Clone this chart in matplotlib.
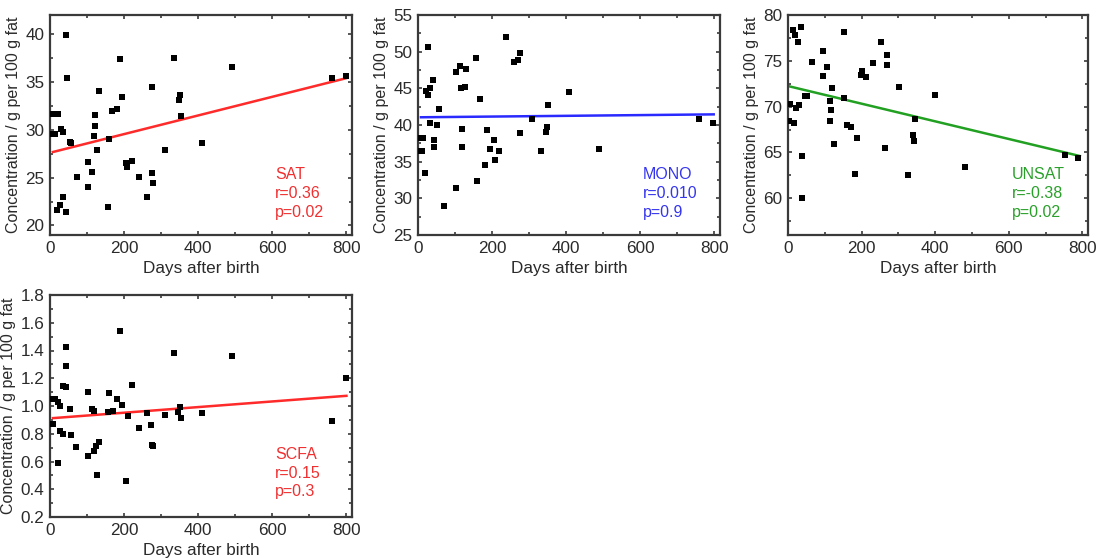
import matplotlib
matplotlib.use("Agg")
import matplotlib.pyplot as plt
from matplotlib.ticker import MultipleLocator, FormatStrFormatter
import numpy as np

plt.rcParams['font.family'] = ['Liberation Sans', 'DejaVu Sans']

# ---------------- data ----------------
sat_days = [0, 5, 7, 22, 7, 13, 29, 36, 20, 27, 36, 42, 43, 45, 54, 58, 72, 103, 103, 114,
            121, 122, 120, 128, 132, 160, 157, 168, 180, 189, 195, 205, 209, 220, 240, 261,
            274, 276, 278, 310, 334, 349, 351, 353, 409, 492, 760, 798]
sat_conc = [29.6, 29.6, 31.6, 31.7, 29.6, 29.6, 30.1, 29.8, 21.6, 22.1, 23.0, 21.4, 39.9, 35.4,
            28.7, 28.6, 25.1, 24.0, 26.6, 25.6, 31.5, 30.4, 29.3, 27.9, 34.1, 29.0, 21.9, 32.0,
            32.2, 37.4, 33.4, 26.5, 26.1, 26.7, 25.1, 23.0, 34.5, 25.5, 24.4, 27.9, 37.5, 33.1,
            33.6, 31.4, 28.6, 36.6, 35.4, 35.6]

mono_days = [4, 13, 4, 12, 20, 22, 27, 27, 33, 33, 40, 42, 42, 52, 57, 69, 102, 103, 112, 117,
             127, 120, 120, 130, 157, 160, 168, 180, 187, 193, 205, 209, 218, 238, 258, 270,
             276, 274, 308, 333, 346, 349, 352, 407, 488, 758, 796]
mono_conc = [38.2, 38.2, 36.5, 36.5, 33.4, 44.7, 44.1, 50.6, 45.1, 40.3, 46.1, 38.0, 37.0, 40.0,
             42.2, 29.0, 31.4, 47.2, 48.0, 45.1, 45.2, 39.5, 37.0, 47.7, 49.2, 32.3, 43.6, 34.5,
             39.3, 36.7, 38.0, 35.2, 36.5, 52.0, 48.6, 48.9, 49.8, 38.9, 40.8, 36.4, 39.1, 39.7,
             42.7, 44.5, 36.7, 40.8, 40.3]

unsat_days = [0, 5, 2, 17, 13, 20, 35, 28, 22, 29, 37, 37, 47, 52, 65, 96, 96, 105, 120, 113,
              116, 113, 125, 151, 153, 160, 172, 187, 181, 202, 198, 212, 232, 253, 270, 268,
              264, 301, 326, 340, 341, 344, 400, 482, 753, 788]
unsat_conc = [70.3, 70.3, 68.4, 68.2, 78.4, 77.8, 78.7, 77.0, 69.9, 70.2, 64.6, 60.0, 71.2, 71.2,
              74.9, 76.1, 73.3, 74.3, 72.0, 70.6, 69.6, 68.4, 65.9, 78.1, 70.9, 68.0, 67.8, 66.6,
              62.6, 73.9, 73.5, 73.2, 74.8, 77.0, 75.6, 74.5, 65.5, 72.1, 62.5, 66.9, 66.3, 68.6,
              71.3, 63.4, 64.7, 64.4]

scfa_days = [5, 14, 22, 27, 3, 9, 27, 36, 21, 36, 42, 42, 42, 54, 58, 70, 102, 102, 112, 120,
             120, 124, 132, 128, 160, 157, 169, 189, 180, 195, 211, 205, 220, 241, 261, 272,
             274, 277, 310, 334, 346, 351, 353, 409, 492, 760, 800]
scfa_conc = [1.05, 1.05, 1.03, 1.00, 0.87, 0.87, 0.82, 0.80, 0.587, 1.147, 1.135, 1.425, 1.288,
             0.978, 0.792, 0.708, 1.104, 0.640, 0.978, 0.961, 0.676, 0.712, 0.737, 0.502, 1.092,
             0.959, 0.966, 1.541, 1.051, 1.007, 0.925, 0.459, 1.152, 0.845, 0.947, 0.860, 0.720,
             0.713, 0.937, 1.384, 0.954, 0.995, 0.913, 0.947, 1.358, 0.894, 1.203]

# fitted lines: (intercept, slope, x start, x end)
sat_fit = (27.6, 0.00975, 8, 798)
mono_fit = (41.05, 0.0005, 8, 798)
unsat_fit = (72.25, -0.00963, 4, 793)
scfa_fit = (0.911, 0.000203, 8, 800)

labels = ["SAT\nr=0.36\np=0.02", "MONO\nr=0.010\np=0.9",
          "UNSAT\nr=-0.38\np=0.02", "SCFA\nr=0.15\np=0.3"]

# ---------------- figure ----------------
W, H = 1099, 558
fig = plt.figure(figsize=(W / 100, H / 100), dpi=100)

def make_ax(left, right, top, bottom):
    return fig.add_axes([left / W, 1 - bottom / H, (right - left) / W, (bottom - top) / H])

panels = [
    dict(box=(50, 352, 15, 235), days=sat_days, conc=sat_conc, fit=sat_fit,
         ylim=(19, 42), major=5, minor=2.5, color='#ff2a2a', tcolor='#f03030',
         label=labels[0], ypos=0.07, fmt=None),
    dict(box=(418, 720, 15, 235), days=mono_days, conc=mono_conc, fit=mono_fit,
         ylim=(25, 55), major=5, minor=2.5, color='#2a2aff', tcolor='#3535ee',
         label=labels[1], ypos=0.07, fmt=None),
    dict(box=(788, 1088, 15, 235), days=unsat_days, conc=unsat_conc, fit=unsat_fit,
         ylim=(56, 80), major=5, minor=2.5, color='#22a022', tcolor='#2aa02a',
         label=labels[2], ypos=0.07, fmt=None),
    dict(box=(50, 352, 295, 517), days=scfa_days, conc=scfa_conc, fit=scfa_fit,
         ylim=(0.2, 1.8), major=0.2, minor=0.1, color='#ff2a2a', tcolor='#f03030',
         label=labels[3], ypos=0.08, fmt='%.1f'),
]

frame_col = '#3a3a3a'
for p in panels:
    ax = make_ax(*p['box'])
    ax.scatter(p['days'], p['conc'], marker='s', s=24, color='black', zorder=3, linewidths=0)
    b, m, x0, x1 = p['fit']
    xs = np.array([x0, x1])
    ax.plot(xs, b + m * xs, color=p['color'], lw=1.8, zorder=2)
    ax.set_xlim(0, 815)
    ax.set_ylim(*p['ylim'])
    ax.xaxis.set_major_locator(MultipleLocator(200))
    ax.xaxis.set_minor_locator(MultipleLocator(100))
    ax.yaxis.set_major_locator(MultipleLocator(p['major']))
    ax.yaxis.set_minor_locator(MultipleLocator(p['minor']))
    if p['fmt']:
        ax.yaxis.set_major_formatter(FormatStrFormatter(p['fmt']))
    ax.tick_params(which='both', direction='in', top=True, right=True,
                   color=frame_col, labelcolor='#2a2a2a', labelsize=12.3, pad=4)
    ax.tick_params(which='major', length=3, width=1.2)
    ax.tick_params(which='minor', length=2, width=1.2)
    for s in ax.spines.values():
        s.set_color(frame_col)
        s.set_linewidth(1.6)
    ax.set_xlabel('Days after birth', fontsize=12.3, color='#2a2a2a', labelpad=4)
    ax.set_ylabel('Concentration / g per 100 g fat', fontsize=11.5, color='#2a2a2a', labelpad=3)
    ax.text(0.745, p['ypos'], p['label'], transform=ax.transAxes, ha='left', va='bottom',
            color=p['tcolor'], fontsize=11.5, linespacing=1.3)

fig.savefig('out.png', dpi=100)
